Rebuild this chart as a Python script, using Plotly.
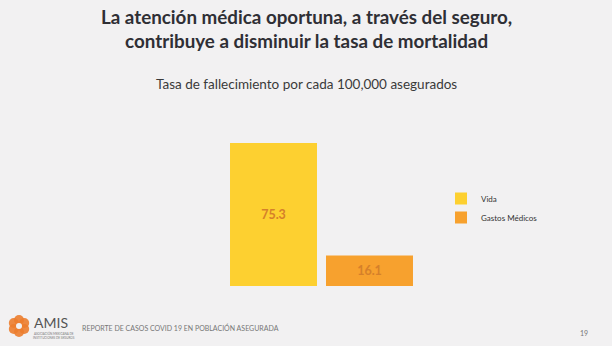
import plotly.graph_objects as go
import math

categories = ["Vida", "Gastos Médicos"]
values = [75.3, 16.1]
labels = ["75.3", "16.1"]
colors = ["#fdd030", "#f7a12e"]

W, H = 612, 346
fig = go.Figure()
for i, (c, v, t, col) in enumerate(zip(categories, values, labels, colors)):
    fig.add_trace(go.Bar(
        x=[i], y=[v], name=c, text=[t], textposition="inside",
        insidetextanchor="middle",
        textfont=dict(family="Lato", size=12.5, color="#d5802a", weight="bold"),
        marker=dict(color=col, line=dict(width=0)),
        width=0.906, showlegend=True, hoverinfo="skip",
    ))

# plot area in pixels
x0, x1 = 225.5, 417.5
ybot, ytop = 286, 143
fig.update_layout(
    width=W, height=H,
    paper_bgcolor="#f2f1f2", plot_bgcolor="#f2f1f2",
    margin=dict(l=0, r=0, t=0, b=0),
    barmode="overlay",
    xaxis=dict(domain=[x0 / W, x1 / W], range=[-0.5, 1.5], visible=False, fixedrange=True),
    yaxis=dict(domain=[(H - ybot) / H, (H - ytop) / H], range=[0, 75.3], visible=False, fixedrange=True),
    legend=dict(x=441 / W, y=1 - 184 / H, xanchor="left", yanchor="top",
                font=dict(family="Lato", size=8, color="#333333"),
                bgcolor="rgba(0,0,0,0)", itemwidth=30, tracegroupgap=0,
                traceorder="normal"),
    font=dict(family="Lato"),
)

ann = [
    dict(text="<b>La atención médica oportuna, a través del seguro,<br>contribuye a disminuir la tasa de mortalidad</b>",
         x=0.5, y=1 - 29 / H, font=dict(family="Lato", size=18.8, color="#2f2f35")),
    dict(text="Tasa de fallecimiento por cada 100,000 asegurados",
         x=0.5, y=1 - 84 / H, font=dict(family="Lato", size=13.5, color="#3a3a3a")),
    dict(text="AMIS", x=32 / W, y=1 - 322 / H, xanchor="left",
         font=dict(family="Lato", size=14, color="#555555")),
    dict(text="ASOCIACIÓN MEXICANA DE<br>INSTITUCIONES DE SEGUROS", x=31 / W, y=1 - 335 / H, xanchor="left",
         font=dict(family="Lato", size=3, color="#777777")),
    dict(text="REPORTE DE CASOS COVID 19 EN POBLACIÓN ASEGURADA", x=80 / W, y=1 - 327 / H, xanchor="left",
         font=dict(family="Lato", size=7, color="#777777")),
    dict(text="19", x=590 / W, y=1 - 333 / H,
         font=dict(family="Lato", size=7, color="#777777")),
]
for a in ann:
    a.update(xref="paper", yref="paper", showarrow=False, yanchor=a.get("yanchor", "middle"))
fig.update_layout(annotations=ann)

# logo petals
shapes = []
cx, cy = 19, 326
for k in range(6):
    ang = math.radians(60 * k + 30)
    px, py = cx + 6 * math.cos(ang), cy + 6 * math.sin(ang)
    shapes.append(dict(type="circle", xref="paper", yref="paper",
                       x0=(px - 5) / W, x1=(px + 5) / W,
                       y0=1 - (py + 5) / H, y1=1 - (py - 5) / H,
                       fillcolor="#ec7d2e", line=dict(width=0), opacity=0.9))
shapes.append(dict(type="circle", xref="paper", yref="paper",
                   x0=(cx - 3) / W, x1=(cx + 3) / W, y0=1 - (cy + 3) / H, y1=1 - (cy - 3) / H,
                   fillcolor="#f2f1f2", line=dict(width=0)))
fig.update_layout(shapes=shapes)

fig.write_html("out.html")
